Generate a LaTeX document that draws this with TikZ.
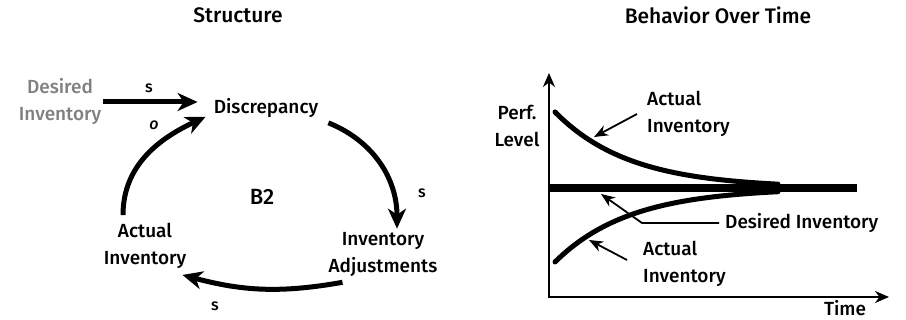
\documentclass[tikz,border=0pt]{standalone}
\usepackage{fontspec}
\setmainfont{Fira Sans Medium}
\usetikzlibrary{arrows.meta}

\begin{document}
\begin{tikzpicture}[
    x=1pt, y=1pt,
    title/.style={font=\fontsize{21}{22}\selectfont},
    var/.style={align=center, font=\fontsize{19}{27}\selectfont, inner sep=2pt},
    pol/.style={font=\fontsize{16}{16}\selectfont},
    link/.style={line width=5pt, -{Stealth[length=20pt, width=18pt, inset=6pt]}},
    axis/.style={line width=2.5pt, {Stealth[length=14pt, width=12pt]}-{Stealth[length=14pt, width=12pt]}},
    curve/.style={line width=5pt, line cap=round},
    pointer/.style={line width=1.8pt, -{Stealth[length=14pt, width=11pt]}}
  ]
    \useasboundingbox (0,0) rectangle (906,320);

    % Titles
    \node[title] (structure) at (238,305) {Structure};
    \node[title] (behavior) at (718,305) {Behavior Over Time};

    % Loop variables (left side)
    \node[var] (discrepancy) at (266,212) {Discrepancy};
    \node[var] (adjust) at (383,65) {Inventory\\Adjustments};
    \node[var] (actual) at (145,74) {Actual\\Inventory};
    \node[var, text=gray] (desired) at (60,218) {Desired\\Inventory};
    \node[font=\fontsize{22}{22}\selectfont] (loop) at (262,123) {B2};

    % Loop links
    \draw[link] (desired.east) -- ([xshift=-14pt]desired.east -| discrepancy.west);
    \draw[link] ([xshift=-22pt,yshift=6pt]actual.north) to[out=90, in=205] ([xshift=-6pt,yshift=3pt]discrepancy.south west);
    \draw[link] ([xshift=8pt,yshift=-3pt]discrepancy.south east) to[out=-22, in=90] ([xshift=14pt,yshift=2pt]adjust.north);
    \draw[link] ([xshift=16pt,yshift=-3pt]adjust.south west) to[out=190, in=-15] ([xshift=-6pt,yshift=-4pt]actual.south east);

    % Polarities
    \node[pol] (s-in) at (149,232) {s};
    \node[pol] (o-in) at (154,195) {\itshape o};
    \node[pol] (s-right) at (422,127) {s};
    \node[pol] (s-bottom) at (215,14) {s};

    % Graph axes (right side)
    \coordinate (y-top) at (549,247);
    \coordinate (x-end) at (889,23);
    \draw[axis] (y-top) |- (x-end);
    \node[var] (perf) at (517,194) {Perf.\\Level};
    \node[var] (time-label) at (845,12) {Time};

    % Goal line and curves
    \coordinate (goal-start) at (549,132);
    \coordinate (goal-end) at (857,132);
    \draw[line width=8pt] (goal-start) -- (goal-end);
    \draw[curve] plot[domain=555:778, samples=60] (\x, {132+76*exp(-0.0134*(\x-555))});
    \draw[curve] plot[domain=555:778, samples=60] (\x, {132-74*exp(-0.0134*(\x-555))});

    % Curve labels
    \node[var, align=left, anchor=west] (upper-label) at (645,206) {Actual\\Inventory};
    \node[var, align=left, anchor=west] (lower-label) at (641,56) {Actual\\Inventory};
    \node[var, anchor=west] (goal-label) at (723,97) {Desired Inventory};
    \coordinate (upper-pt) at (594,183);
    \coordinate (lower-pt) at (589,80);
    \coordinate (goal-pt) at (601,126);
    \coordinate (goal-bend) at (642,97);
    \draw[pointer] ([xshift=-8pt]upper-label.west) -- (upper-pt);
    \draw[pointer] ([xshift=-14pt,yshift=4pt]lower-label.west) -- (lower-pt);
    \draw[pointer] ([xshift=-4pt]goal-label.west) -- (goal-bend) -- (goal-pt);

  \end{tikzpicture}
\end{document}
